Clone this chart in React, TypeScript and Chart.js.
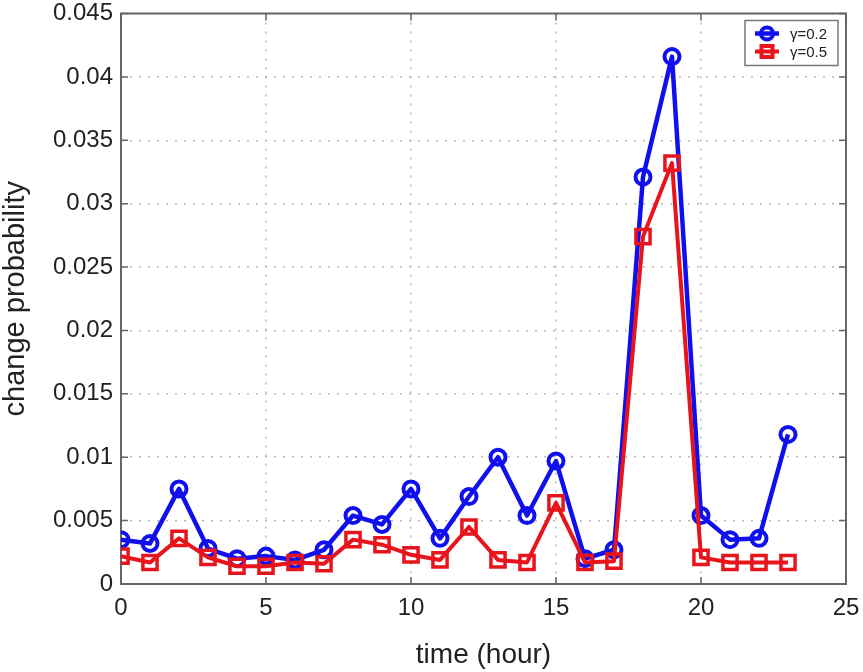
import React, { useEffect, useRef } from "react";
import { Chart, registerables } from "chart.js";

Chart.register(...registerables);

const hours = [0, 1, 2, 3, 4, 5, 6, 7, 8, 9, 10, 11, 12, 13, 14, 15, 16, 17, 18, 19, 20, 21, 22, 23];
const gamma02 = [0.0035, 0.0032, 0.0075, 0.0028, 0.002, 0.0022, 0.0019, 0.0027, 0.0054, 0.0047, 0.0075, 0.0036, 0.0069, 0.01, 0.0054, 0.0097, 0.002, 0.0027, 0.0321, 0.0416, 0.0054, 0.0035, 0.0036, 0.0118];
const gamma05 = [0.0022, 0.0017, 0.0036, 0.0021, 0.0014, 0.0014, 0.0017, 0.0016, 0.0035, 0.0031, 0.0023, 0.0019, 0.0045, 0.0019, 0.0017, 0.0064, 0.0017, 0.0018, 0.0274, 0.0332, 0.0021, 0.0017, 0.0017, 0.0017];
const seriesLabels = ["γ=0.2", "γ=0.5"];
const xTitle = "time (hour)";
const yTitle = "change probability";

const FONT = "'Liberation Sans', Arial, Helvetica, sans-serif";
const BLUE = "#1010ee";
const RED = "#e8141c";

const framePlugin = {
  id: "frame",
  beforeDatasetsDraw(chart: any) {
    const { ctx, chartArea } = chart;
    const { left, right, top, bottom } = chartArea;
    ctx.save();
    ctx.strokeStyle = "#666";
    ctx.lineWidth = 2;
    ctx.strokeRect(left, top, right - left, bottom - top);
    ctx.lineWidth = 1.5;
    const xs = chart.scales.x;
    const ys = chart.scales.y;
    const len = 7;
    ctx.beginPath();
    xs.ticks.forEach((t: any) => {
      const px = xs.getPixelForValue(t.value);
      ctx.moveTo(px, bottom);
      ctx.lineTo(px, bottom - len);
      ctx.moveTo(px, top);
      ctx.lineTo(px, top + len);
    });
    ys.ticks.forEach((t: any) => {
      const py = ys.getPixelForValue(t.value);
      ctx.moveTo(left, py);
      ctx.lineTo(left + len, py);
      ctx.moveTo(right, py);
      ctx.lineTo(right - len, py);
    });
    ctx.stroke();
    ctx.restore();
  },
  afterDraw(chart: any) {
    const { ctx, chartArea } = chart;
    const w = 93;
    const h = 45;
    const x0 = chartArea.right - 8 - w;
    const y0 = chartArea.top + 7;
    ctx.save();
    ctx.fillStyle = "#fff";
    ctx.fillRect(x0, y0, w, h);
    ctx.strokeStyle = "#777";
    ctx.lineWidth = 1.5;
    ctx.strokeRect(x0, y0, w, h);
    chart.data.datasets.forEach((ds: any, i: number) => {
      const cy = y0 + 13 + i * 18;
      const cx = x0 + 22;
      ctx.strokeStyle = ds.borderColor;
      ctx.lineWidth = ds.borderWidth;
      ctx.beginPath();
      ctx.moveTo(cx - 12, cy);
      ctx.lineTo(cx + 12, cy);
      ctx.stroke();
      ctx.lineWidth = 4;
      ctx.beginPath();
      if (ds.pointStyle === "rect") {
        ctx.rect(cx - 5.5, cy - 5.5, 11, 11);
      } else {
        ctx.arc(cx, cy, 6, 0, Math.PI * 2);
      }
      ctx.stroke();
      ctx.fillStyle = "#222";
      ctx.font = `15px ${FONT}`;
      ctx.textBaseline = "middle";
      ctx.textAlign = "left";
      ctx.fillText(ds.label, x0 + 45, cy + 1);
    });
    ctx.restore();
  },
};

export default function App() {
  const ref = useRef<HTMLCanvasElement | null>(null);

  useEffect(() => {
    if (!ref.current) return;
    const chart = new Chart(ref.current, {
      type: "line",
      data: {
        datasets: [
          {
            label: seriesLabels[0],
            data: hours.map((h, i) => ({ x: h, y: gamma02[i] })),
            borderColor: BLUE,
            backgroundColor: "rgba(0,0,0,0)",
            borderWidth: 4.5,
            borderJoinStyle: "round",
            pointStyle: "circle",
            pointRadius: 7.5,
            pointBorderWidth: 4,
            pointBackgroundColor: "rgba(0,0,0,0)",
            pointBorderColor: BLUE,
            tension: 0,
            order: 1,
          },
          {
            label: seriesLabels[1],
            data: hours.map((h, i) => ({ x: h, y: gamma05[i] })),
            borderColor: RED,
            backgroundColor: "rgba(0,0,0,0)",
            borderWidth: 4,
            borderJoinStyle: "round",
            pointStyle: "rect",
            pointRadius: 10,
            pointBorderWidth: 3.5,
            pointBackgroundColor: "rgba(0,0,0,0)",
            pointBorderColor: RED,
            tension: 0,
            order: 0,
          },
        ],
      },
      options: {
        responsive: false,
        animation: false,
        layout: { padding: { top: 13, right: 17, left: 0, bottom: 0 } },
        plugins: {
          legend: { display: false },
          tooltip: { enabled: false },
        },
        scales: {
          x: {
            type: "linear",
            min: 0,
            max: 25,
            ticks: {
              stepSize: 5,
              color: "#222",
              font: { family: FONT, size: 24, lineHeight: 1 },
              padding: 12,
            },
            grid: { color: "#b8b8b8", lineWidth: 1.5, drawTicks: false },
            border: { display: false, dash: [2, 7] },
            title: {
              display: true,
              text: xTitle,
              color: "#222",
              font: { family: FONT, size: 28, lineHeight: 1 },
              padding: { top: 0, bottom: 3 },
            },
            afterFit: (s: any) => {
              s.height = 88;
              s.paddingLeft = 0;
              s.paddingRight = 0;
            },
          },
          y: {
            type: "linear",
            min: 0,
            max: 0.045,
            ticks: {
              stepSize: 0.005,
              color: "#222",
              font: { family: FONT, size: 24, lineHeight: 1 },
              padding: 8,
              callback: (v: any) => String(+Number(v).toFixed(3)),
            },
            grid: { color: "#b8b8b8", lineWidth: 1.5, drawTicks: false },
            border: { display: false, dash: [2, 7] },
            title: {
              display: true,
              text: yTitle,
              color: "#222",
              font: { family: FONT, size: 29, lineHeight: 1 },
              padding: { top: 1, bottom: 0 },
            },
            afterFit: (s: any) => {
              s.width = 121;
              s.paddingTop = 0;
              s.paddingBottom = 0;
            },
          },
        },
      },
      plugins: [framePlugin],
    });
    return () => chart.destroy();
  }, []);

  return (
    <div style={{ position: "absolute", left: 0, top: 0, width: 863, height: 672, background: "#fff" }}>
      <canvas ref={ref} width={863} height={672} style={{ width: 863, height: 672 }} />
    </div>
  );
}
